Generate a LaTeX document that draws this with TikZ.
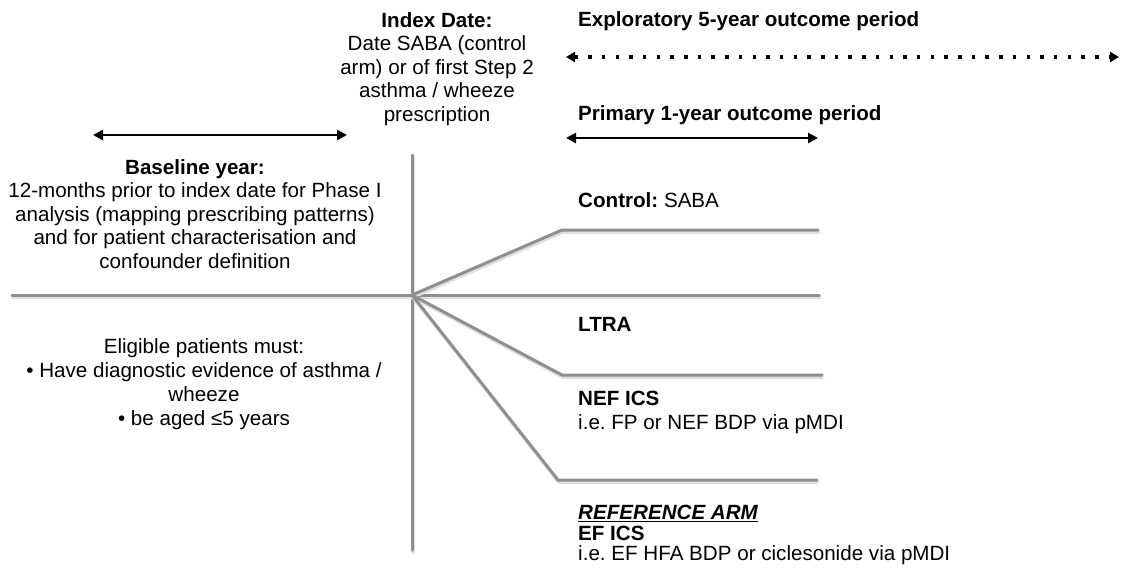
\documentclass[tikz,border=0pt]{standalone}
\usepackage{fontspec}
\setmainfont{Liberation Sans}
\usepackage{xcolor}
\usetikzlibrary{arrows.meta}
\definecolor{armgray}{RGB}{143,143,143}
\definecolor{shadegray}{RGB}{222,222,222}
\frenchspacing

\begin{document}
\begin{tikzpicture}[line cap=round,line join=round,x=1pt,y=-1pt,
    arm/.style={line width=3pt,color=armgray,
        preaction={draw=shadegray,line width=3.5pt,transform canvas={shift={(0.8pt,-2pt)}}}},
    period/.style={line width=2.6pt,color=black,
        {Triangle[length=10pt,width=10pt]}-{Triangle[length=10pt,width=10pt]}},
    dotperiod/.style={line width=3.5pt,color=black,line cap=butt,dash pattern=on 3.5pt off 10.2pt,
        {Triangle[length=9pt,width=10pt]}-{Triangle[length=9pt,width=10pt]}},
    lbl/.style={inner sep=0pt,font=\fontsize{20.6}{23.5}\selectfont}]
    \useasboundingbox (0,0) rectangle (1121,571);
    % time axis and treatment arms
    \coordinate (junction) at (412,295);
    \coordinate (vtop) at (412,155);
    \coordinate (vbot) at (412,550);
    \coordinate (mainL) at (12,295);
    \coordinate (mainR) at (819,295);
    \coordinate (ctrlK) at (562,230);
    \coordinate (ctrlE) at (818,230);
    \coordinate (nefK) at (562,375);
    \coordinate (nefE) at (822,375);
    \coordinate (efK) at (558,480);
    \coordinate (efE) at (817,480);
    \draw [arm] (vtop)-- (vbot);
    \draw [arm] (mainL)-- (mainR);
    \draw [arm] (junction)-- (ctrlK)-- (ctrlE);
    \draw [arm] (junction)-- (nefK)-- (nefE);
    \draw [arm] (junction)-- (efK)-- (efE);
    % periods
    \coordinate (baseL) at (93,135);
    \coordinate (baseR) at (347,135);
    \coordinate (primL) at (566,138);
    \coordinate (primR) at (818,138);
    \coordinate (explL) at (566,57);
    \coordinate (explR) at (1119,57);
    \draw [period] (baseL)-- (baseR);
    \draw [period] (primL)-- (primR);
    \draw [dotperiod] (explL)-- (explR);
    % labels
    \node [lbl,align=center,anchor=north] (index) at (437,12) {\textbf{Index Date:}\\Date SABA (control\\arm) or of first Step 2\\asthma / wheeze\\prescription};
    \node [lbl,anchor=north west] (explore) at (578,11) {\textbf{Exploratory 5-year outcome period}};
    \node [lbl,anchor=north west] (primary) at (578,105) {\textbf{Primary 1-year outcome period}};
    \node [lbl,align=center,anchor=north] (baseline) at (195,159) {\textbf{Baseline year:}\\12-months prior to index date for Phase I\\analysis (mapping prescribing patterns)\\and for patient characterisation and\\confounder definition};
    \node [lbl,align=center,anchor=north,font=\fontsize{20.6}{24}\selectfont] (eligible) at (204,338) {Eligible patients must:\\• Have diagnostic evidence of asthma /\\wheeze\\• be aged ≤5 years};
    \node [lbl,anchor=north west] (control) at (578,192) {\textbf{Control:} SABA};
    \node [lbl,anchor=north west] (ltra) at (578,317) {\textbf{LTRA}};
    \node [lbl,align=left,anchor=north west,font=\fontsize{20.6}{24}\selectfont] (nef) at (578,391) {\textbf{NEF ICS}\\i.e. FP or NEF BDP via pMDI};
    \node [lbl,align=left,anchor=north west,font=\fontsize{20.6}{20.5}\selectfont] (efics) at (578,505) {\underline{\textbf{\textit{REFERENCE ARM}}}\\\textbf{EF ICS}\\i.e. EF HFA BDP or ciclesonide via pMDI};
\end{tikzpicture}
\end{document}
